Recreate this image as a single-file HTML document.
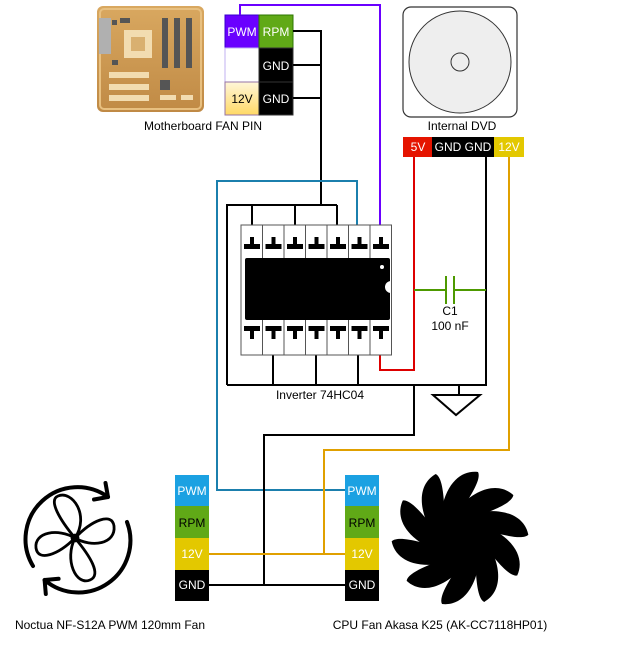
<!DOCTYPE html>
<html><head><meta charset="utf-8"><style>
body{margin:0;background:#fff;}
svg{display:block;font-family:"Liberation Sans",sans-serif;}
</style></head><body>
<svg width="632" height="652" viewBox="0 0 632 652" xmlns="http://www.w3.org/2000/svg">
<defs>
<linearGradient id="mb" x1="0" y1="0" x2="0" y2="1"><stop offset="0" stop-color="#d9a860"/><stop offset="1" stop-color="#c08a45"/></linearGradient>
<linearGradient id="y12" x1="0" y1="0" x2="0" y2="1"><stop offset="0" stop-color="#fff6d8"/><stop offset="1" stop-color="#ffd966"/></linearGradient>
</defs>
<rect x="97" y="6" width="107" height="106" rx="6" fill="url(#mb)"/>
<rect x="100" y="9" width="101" height="100" rx="4" fill="none" stroke="#e8c080" stroke-width="2"/>
<rect x="99" y="18" width="12" height="36" fill="#b0b0b0"/>
<rect x="124" y="30" width="28" height="28" fill="#f2dcb0"/><rect x="131" y="37" width="14" height="14" fill="#d9b070"/>
<rect x="162" y="18" width="6" height="50" fill="#555"/><rect x="174" y="18" width="6" height="50" fill="#555"/><rect x="186" y="18" width="6" height="50" fill="#555"/>
<rect x="109" y="72" width="40" height="6" fill="#f2dcb0"/><rect x="109" y="84" width="40" height="6" fill="#f2dcb0"/><rect x="109" y="95" width="40" height="6" fill="#f2dcb0"/>
<rect x="160" y="80" width="10" height="10" fill="#555"/><rect x="160" y="95" width="16" height="5" fill="#f2dcb0"/><rect x="181" y="95" width="12" height="5" fill="#f2dcb0"/>
<rect x="112" y="20" width="5" height="5" fill="#555"/><rect x="120" y="18" width="10" height="5" fill="#555"/><rect x="112" y="60" width="6" height="5" fill="#555"/>
<text x="203" y="130" font-size="12" text-anchor="middle">Motherboard FAN PIN</text>
<rect x="225" y="15" width="34" height="33" fill="#6a00ff" stroke="#3700cc"/>
<rect x="259" y="15" width="34" height="33" fill="#60a917" stroke="#2d7600"/>
<rect x="225" y="48" width="34" height="34" fill="#fff" stroke="#c0b0f0"/>
<rect x="259" y="48" width="34" height="34" fill="#000" stroke="#333"/>
<rect x="225" y="82" width="34" height="33" fill="url(#y12)" stroke="#9673a6"/>
<rect x="259" y="82" width="34" height="33" fill="#000" stroke="#333"/>
<g font-size="12" text-anchor="middle" fill="#fff">
<text x="242" y="36">PWM</text><text x="276" y="36">RPM</text><text x="276" y="70">GND</text><text x="242" y="103" fill="#000">12V</text><text x="276" y="103">GND</text></g>
<rect x="403" y="7" width="114" height="110" rx="8" fill="#fff" stroke="#333" stroke-width="1.2"/>
<circle cx="460" cy="62" r="51" fill="#eee" stroke="#333"/>
<circle cx="460" cy="62" r="9" fill="#eee" stroke="#333"/>
<text x="462" y="130" font-size="12" text-anchor="middle">Internal DVD</text>
<rect x="403" y="137" width="29" height="20" fill="#e51400"/>
<rect x="432" y="137" width="62" height="20" fill="#000"/>
<rect x="494" y="137" width="30" height="20" fill="#e3c800"/>
<g font-size="12" fill="#fff" text-anchor="middle"><text x="418" y="151">5V</text><text x="448" y="151">GND</text><text x="478" y="151">GND</text><text x="509" y="151">12V</text></g>
<g fill="none" stroke-width="2">
<polyline points="293,31 321,31 321,205" stroke="#000"/>
<line x1="293" y1="65" x2="321" y2="65" stroke="#000"/>
<line x1="293" y1="98" x2="321" y2="98" stroke="#000"/>
<polyline points="240,15 240,5 380,5 380,225" stroke="#6a00ff"/>
<polyline points="227,385 227,205 337,205" stroke="#000"/>
<line x1="252" y1="205" x2="252" y2="225" stroke="#000"/>
<line x1="295" y1="205" x2="295" y2="225" stroke="#000"/>
<line x1="337" y1="205" x2="337" y2="225" stroke="#000"/>
<polyline points="227,385 486,385 486,157" stroke="#000"/>
<line x1="273" y1="355" x2="273" y2="385" stroke="#000"/>
<line x1="316" y1="355" x2="316" y2="385" stroke="#000"/>
<line x1="358" y1="355" x2="358" y2="385" stroke="#000"/>
<polyline points="380,355 380,370 414,370 414,157" stroke="#d00"/>
<line x1="414" y1="290" x2="446" y2="290" stroke="#4d9900"/>
<line x1="454" y1="290" x2="486" y2="290" stroke="#4d9900"/>
<line x1="446" y1="276" x2="446" y2="304" stroke="#4d9900"/>
<line x1="454" y1="276" x2="454" y2="304" stroke="#4d9900"/>
<polyline points="357,225 357,181 217,181 217,490 345,490" stroke="#1b7fad"/>
<polyline points="414,385 414,435 264,435 264,585" stroke="#000"/>
<line x1="209" y1="585" x2="345" y2="585" stroke="#000"/>
<polyline points="509,157 509,450 324,450 324,554" stroke="#e0a000"/>
<line x1="209" y1="554" x2="345" y2="554" stroke="#e0a000"/>
<line x1="459" y1="385" x2="459" y2="395" stroke="#000"/>
<polygon points="433,395 480,395 456,415" stroke="#000"/>
</g>
<text x="450" y="315" font-size="12" text-anchor="middle">C1</text>
<text x="450" y="330" font-size="12" text-anchor="middle">100 nF</text>
<g stroke="#555" fill="#fff">
<rect x="241" y="225" width="21.5" height="130"/><rect x="262.5" y="225" width="21.5" height="130"/><rect x="284" y="225" width="21.5" height="130"/><rect x="305.5" y="225" width="21.5" height="130"/><rect x="327" y="225" width="21.5" height="130"/><rect x="348.5" y="225" width="21.5" height="130"/><rect x="370" y="225" width="21.5" height="130"/>
</g>
<rect x="245" y="258" width="145" height="62" rx="2" fill="#000"/>
<circle cx="382" cy="267" r="2" fill="#fff"/>
<path d="M391,281 a5,5 0 0 0 0,12 z" fill="#fff"/>
<g fill="#000">
<rect x="250" y="237" width="4" height="8"/><rect x="244" y="244" width="16" height="5"/>
<rect x="271.5" y="237" width="4" height="8"/><rect x="265.5" y="244" width="16" height="5"/>
<rect x="293" y="237" width="4" height="8"/><rect x="287" y="244" width="16" height="5"/>
<rect x="314.5" y="237" width="4" height="8"/><rect x="308.5" y="244" width="16" height="5"/>
<rect x="336" y="237" width="4" height="8"/><rect x="330" y="244" width="16" height="5"/>
<rect x="357.5" y="237" width="4" height="8"/><rect x="351.5" y="244" width="16" height="5"/>
<rect x="379" y="237" width="4" height="8"/><rect x="373" y="244" width="16" height="5"/>
<rect x="250" y="330" width="4" height="9"/><rect x="244" y="326" width="16" height="5"/>
<rect x="271.5" y="330" width="4" height="9"/><rect x="265.5" y="326" width="16" height="5"/>
<rect x="293" y="330" width="4" height="9"/><rect x="287" y="326" width="16" height="5"/>
<rect x="314.5" y="330" width="4" height="9"/><rect x="308.5" y="326" width="16" height="5"/>
<rect x="336" y="330" width="4" height="9"/><rect x="330" y="326" width="16" height="5"/>
<rect x="357.5" y="330" width="4" height="9"/><rect x="351.5" y="326" width="16" height="5"/>
<rect x="379" y="330" width="4" height="9"/><rect x="373" y="326" width="16" height="5"/>
</g>
<text x="320" y="399" font-size="12" text-anchor="middle">Inverter 74HC04</text>
<rect x="175" y="475" width="34" height="31" fill="#1ba1e2"/><rect x="175" y="506" width="34" height="32" fill="#60a917"/><rect x="175" y="538" width="34" height="32" fill="#e3c800"/><rect x="175" y="570" width="34" height="31" fill="#000"/>
<rect x="345" y="475" width="34" height="31" fill="#1ba1e2"/><rect x="345" y="506" width="34" height="32" fill="#60a917"/><rect x="345" y="538" width="34" height="32" fill="#e3c800"/><rect x="345" y="570" width="34" height="31" fill="#000"/>
<g font-size="12" text-anchor="middle">
<text x="192" y="495" fill="#fff">PWM</text><text x="192" y="527">RPM</text><text x="192" y="558" fill="#fff">12V</text><text x="192" y="589" fill="#fff">GND</text>
<text x="362" y="495" fill="#fff">PWM</text><text x="362" y="527">RPM</text><text x="362" y="558" fill="#fff">12V</text><text x="362" y="589" fill="#fff">GND</text>
</g>
<g fill="none" stroke="#000" stroke-width="4" stroke-linecap="round" stroke-linejoin="round">
<path d="M33,566 A52,52 0 0 1 108,497"/>
<polyline points="105.5,483 108,497 94,499.5"/>
<path d="M127,522 A52,52 0 0 1 44.6,580"/>
<polyline points="45.8,594 44.6,580 58.6,578.8"/>
</g>
<g fill="none" stroke="#000" stroke-width="2.8">
<path d="M75,538 C60,520 48,500 58,496 C72,490 90,515 75,538"/>
<path d="M75,538 C92,520 112,512 114,526 C116,544 92,548 75,538"/>
<path d="M75,538 C90,556 102,575 90,580 C76,586 64,560 75,538"/>
<path d="M75,538 C58,555 38,562 36,548 C34,532 58,528 75,538"/>
<circle cx="75" cy="538" r="3"/>
</g>
<text x="110" y="629" font-size="12" text-anchor="middle">Noctua NF-S12A PWM 120mm Fan</text>
<g fill="#000" transform="translate(460,538)">
<circle r="26"/>
<g id="bl"><path d="M-4,-20 C8,-38 22,-58 18,-66 C2,-68 -16,-56 -20,-18 Z"/></g>
<use href="#bl" transform="rotate(36)"/><use href="#bl" transform="rotate(72)"/><use href="#bl" transform="rotate(108)"/><use href="#bl" transform="rotate(144)"/><use href="#bl" transform="rotate(180)"/><use href="#bl" transform="rotate(216)"/><use href="#bl" transform="rotate(252)"/><use href="#bl" transform="rotate(288)"/><use href="#bl" transform="rotate(324)"/>
</g>
<text x="440" y="629" font-size="12" text-anchor="middle">CPU Fan Akasa K25 (AK-CC7118HP01)</text>
</svg>
</body></html>
